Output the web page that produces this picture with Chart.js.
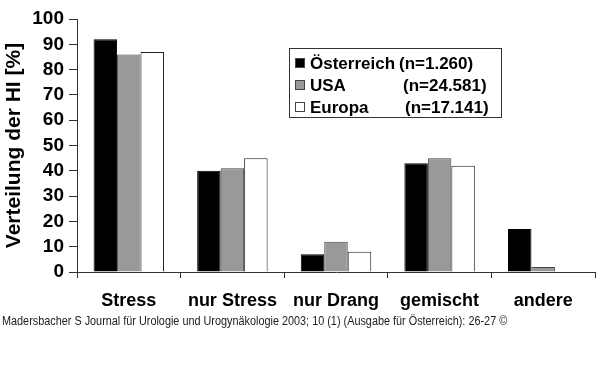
<!DOCTYPE html>
<html>
<head>
<meta charset="utf-8">
<script src="https://cdn.jsdelivr.net/npm/chart.js@4.4.1/dist/chart.umd.min.js"></script>
<style>
  body { margin: 0; background: #fff; }
  #wrap { position: relative; width: 600px; height: 371px; }
  #quelle { position: absolute; left: 2px; top: 313px; font: 13px "Liberation Sans", Arial, sans-serif; color: #222; white-space: nowrap; transform: scaleX(0.835); transform-origin: 0 0; }
</style>
</head>
<body>
<div id="wrap">
  <canvas id="myChart" width="600" height="371"></canvas>
  <div id="quelle">Madersbacher S Journal für Urologie und Urogynäkologie 2003; 10 (1) (Ausgabe für Österreich): 26-27 ©</div>
</div>
<script>
// Daten
const kategorien = ["Stress", "nur Stress", "nur Drang", "gemischt", "andere"];
const oesterreich = [92, 40, 7, 43, 17];
const usa = [86, 41, 12, 45, 2];
const europa = [87, 45, 8, 42, 0];
const legendeNamen = ["Österreich", "USA", "Europa"];
const legendeN = ["(n=1.260)", "(n=24.581)", "(n=17.141)"];
const yTicks = [0, 10, 20, 30, 40, 50, 60, 70, 80, 90, 100];

const schrift = "'Liberation Sans', Arial, sans-serif";

// Legende im Kasten
const legendePlugin = {
  id: "legendeKasten",
  afterDraw(chart) {
    const ctx = chart.ctx;
    ctx.save();
    ctx.strokeStyle = "#333";
    ctx.lineWidth = 1;
    ctx.strokeRect(289.5, 48.5, 212, 69);
    const farben = ["#000", "#999", "#fff"];
    const ys = [63, 85, 107];
    const nx = [399, 403, 405];
    ctx.font = "bold 17px " + schrift;
    ctx.textBaseline = "middle";
    for (let i = 0; i < 3; i++) {
      ctx.fillStyle = farben[i];
      ctx.fillRect(295, ys[i] - 5, 10, 10);
      ctx.strokeStyle = "#444";
      ctx.strokeRect(295.5, ys[i] - 4.5, 9, 9);
      ctx.fillStyle = "#000";
      ctx.fillText(legendeNamen[i], 310, ys[i] + 1);
      ctx.fillText(legendeN[i], nx[i], ys[i] + 1);
    }
    ctx.restore();
  },
};

const ctx = document.getElementById("myChart").getContext("2d");
const myChart = new Chart(ctx, {
  type: "bar",
  data: {
    labels: kategorien,
    datasets: [
      {
        label: legendeNamen[0],
        data: oesterreich,
        backgroundColor: "#000",
        borderColor: "#000",
        borderWidth: 1,
      },
      {
        label: legendeNamen[1],
        data: usa,
        backgroundColor: "#999",
        borderColor: "#444",
        borderWidth: 1,
      },
      {
        label: legendeNamen[2],
        data: europa,
        backgroundColor: "#fff",
        borderColor: "#222",
        borderWidth: 1,
      },
    ],
  },
  options: {
    responsive: false,
    animation: false,
    layout: { padding: { left: 0, top: 19, right: 5, bottom: 61 } },
    datasets: { bar: { categoryPercentage: 0.68, barPercentage: 1 } },
    plugins: {
      legend: { display: false },
      tooltip: { enabled: false },
    },
    scales: {
      x: {
        grid: { drawOnChartArea: false, drawTicks: true, tickLength: 6, color: "#333" },
        border: { color: "#333", width: 1 },
        ticks: { color: "#000", font: { family: schrift, size: 18, weight: "bold" }, padding: 12, maxRotation: 0 },
        afterFit(scale) { scale.height = 38; },
      },
      y: {
        min: 0,
        max: 100,
        afterBuildTicks(scale) { scale.ticks = yTicks.map((v) => ({ value: v })); },
        grid: { drawOnChartArea: false, drawTicks: true, tickLength: 8, color: "#333" },
        border: { color: "#333", width: 1 },
        ticks: { color: "#000", font: { family: schrift, size: 19, weight: "bold" }, padding: 5, autoSkip: false },
        title: {
          display: true,
          text: "Verteilung der HI [%]",
          color: "#000",
          font: { family: schrift, size: 21, weight: "bold" },
          padding: { top: 2, bottom: 0 },
        },
        afterFit(scale) { scale.width = 77; },
      },
    },
  },
  plugins: [legendePlugin],
});
</script>
</body>
</html>
